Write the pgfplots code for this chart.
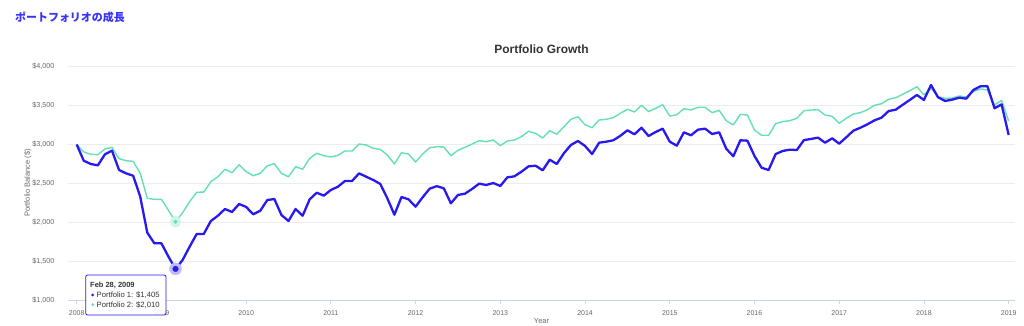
\documentclass[border=0pt]{standalone}
\usepackage{pgfplots}
\pgfplotsset{compat=1.18}
\usepackage{pgfplotstable}
\usepackage{fontspec}
\setmainfont{Liberation Sans}
\newfontfamily\cjk{Noto Sans CJK JP}
\definecolor{pone}{RGB}{40,25,240}
\definecolor{ptwo}{RGB}{100,224,178}
\definecolor{gridc}{RGB}{236,236,236}
\definecolor{axisc}{RGB}{204,214,235}
\definecolor{labc}{RGB}{102,102,102}
\definecolor{titc}{RGB}{51,51,51}
\definecolor{jtit}{RGB}{55,50,250}
\definecolor{haloone}{RGB}{190,188,252}
\definecolor{halotwo}{RGB}{208,245,231}

\pgfplotstableread{
m v
0 3000
1 2792
2 2750
3 2733
4 2874
5 2921
6 2673
7 2630
8 2600
9 2331
10 1869
11 1733
12 1733
13 1562
14 1405
15 1519
16 1690
17 1853
18 1853
19 2019
20 2087
21 2173
22 2135
23 2237
24 2200
25 2105
26 2151
27 2288
28 2301
29 2096
30 2019
31 2173
32 2087
33 2297
34 2382
35 2344
36 2417
37 2459
38 2532
39 2532
40 2630
41 2587
42 2545
43 2494
44 2310
45 2100
46 2327
47 2297
48 2203
49 2323
50 2434
51 2466
52 2438
53 2246
54 2353
55 2370
56 2430
57 2498
58 2481
59 2506
60 2468
61 2579
62 2592
63 2652
64 2720
65 2728
66 2669
67 2805
68 2750
69 2887
70 2994
71 3045
72 2981
73 2878
74 3023
75 3036
76 3054
77 3111
78 3182
79 3131
80 3215
81 3109
82 3160
83 3203
84 3036
85 2985
86 3156
87 3118
88 3190
89 3203
90 3135
91 3156
92 2946
93 2849
94 3054
95 3049
96 2853
97 2703
98 2673
99 2878
100 2917
101 2934
102 2929
103 3056
104 3071
105 3088
106 3023
107 3079
108 3011
109 3092
110 3177
111 3215
112 3259
113 3310
114 3344
115 3429
116 3446
117 3510
118 3571
119 3635
120 3571
121 3763
122 3605
123 3558
124 3575
125 3600
126 3588
127 3699
128 3746
129 3746
130 3464
131 3515
132 3122
}\pone

\pgfplotstableread{
m v
0 3000
1 2904
2 2874
3 2870
4 2942
5 2964
6 2818
7 2792
8 2784
9 2630
10 2310
11 2297
12 2297
13 2156
14 2010
15 2126
16 2267
17 2387
18 2390
19 2523
20 2587
21 2682
22 2639
23 2741
24 2652
25 2600
26 2630
27 2728
28 2754
29 2630
30 2587
31 2716
32 2682
33 2823
34 2887
35 2857
36 2840
37 2861
38 2917
39 2917
40 3006
41 2994
42 2951
43 2938
44 2865
45 2750
46 2895
47 2878
48 2776
49 2878
50 2959
51 2972
52 2968
53 2857
54 2925
55 2964
56 3006
57 3049
58 3036
59 3058
60 2985
61 3045
62 3058
63 3100
64 3169
65 3143
66 3083
67 3177
68 3131
69 3228
70 3323
71 3356
72 3254
73 3215
74 3314
75 3323
76 3344
77 3400
78 3451
79 3417
80 3503
81 3421
82 3464
83 3510
84 3365
85 3382
86 3459
87 3442
88 3477
89 3477
90 3408
91 3438
92 3305
93 3250
94 3387
95 3378
96 3186
97 3118
98 3118
99 3267
100 3293
101 3305
102 3336
103 3432
104 3442
105 3446
106 3378
107 3361
108 3272
109 3336
110 3391
111 3408
112 3446
113 3503
114 3523
115 3579
116 3600
117 3643
118 3690
119 3741
120 3635
121 3721
122 3613
123 3592
124 3596
125 3622
126 3609
127 3677
128 3712
129 3699
130 3506
131 3567
132 3301
}\ptwotab

\begin{document}
\begin{tikzpicture}
\path[use as bounding box] (0,0) rectangle (1024bp,326bp);
\begin{axis}[
  at={(68bp,25.5bp)}, anchor=south west,
  scale only axis, width=947bp, height=234bp,
  xmin=-1.23, xmax=132.9, ymin=1000, ymax=4000,
  axis x line*=bottom, axis y line*=left,
  x axis line style={draw=axisc, line width=0.8bp, -},
  y axis line style={draw=none},
  xtick={0,12,...,132},
  xticklabels={2008,2009,2010,2011,2012,2013,2014,2015,2016,2017,2018,2019},
  ytick={1000,1500,2000,2500,3000,3500,4000},
  yticklabels={{\$1,000},{\$1,500},{\$2,000},{\$2,500},{\$3,000},{\$3,500},{\$4,000}},
  xtick style={draw=axisc, line width=0.8bp},
  ytick style={draw=none},
  tick align=outside, major tick length=3.5bp,
  ymajorgrids, grid style={draw=gridc, line width=0.8bp},
  xticklabel style={font=\fontsize{7}{8}\selectfont, text=labc, anchor=north, inner sep=0pt, yshift=-6.5bp},
  yticklabel style={font=\fontsize{7.2}{8}\selectfont, text=labc, anchor=east, inner sep=0pt, xshift=-10bp},
  clip=false,
]
\addplot[ptwo, line width=1.4bp, line join=round] table[x=m, y=v] {\ptwotab};
\addplot[halotwo, only marks, mark=*, mark size=5.5bp, mark options={draw=halotwo, fill=halotwo}] coordinates {(14,2010)};
\addplot[pone, line width=2.3bp, line join=round] table[x=m, y=v] {\pone};
\addplot[ptwo, only marks, mark=*, mark size=1.8bp, mark options={draw=ptwo, fill=ptwo}] coordinates {(14,2010)};
\addplot[haloone, only marks, mark=*, mark size=6bp, mark options={draw=haloone, fill=haloone}] coordinates {(14,1405)};
\addplot[pone, only marks, mark=*, mark size=2.8bp, mark options={draw=pone, fill=pone}] coordinates {(14,1405)};
\end{axis}
% titles
\node[anchor=west, inner sep=0pt, text=jtit, font=\cjk\bfseries\fontsize{11}{12}\selectfont] at (15bp,309bp) {ポートフォリオの成長};
\node[inner sep=0pt, text=titc, font=\bfseries\fontsize{12}{14}\selectfont] at (541.5bp,277bp) {Portfolio Growth};
\node[inner sep=0pt, text=labc, rotate=90, font=\fontsize{7.5}{9}\selectfont] at (28bp,143bp) {Portfolio Balance (\$)};
\node[inner sep=0pt, text=labc, font=\fontsize{7.5}{9}\selectfont] at (541.5bp,5bp) {Year};
% tooltip
\draw[pone, line width=0.8bp, fill=white, fill opacity=0.9, rounded corners=2bp] (85.7bp,11bp) rectangle (166bp,51bp);
\node[anchor=west, inner sep=0pt, text=titc, font=\bfseries\fontsize{7.5}{9}\selectfont] at (90bp,41bp) {Feb 28, 2009};
\fill[pone] (92.7bp,31bp) circle (1.5bp);
\node[anchor=west, inner sep=0pt, text=titc, font=\fontsize{7.7}{9}\selectfont] at (96.5bp,31bp) {Portfolio 1: \$1,405};
\fill[ptwo] (92.7bp,21.3bp) circle (1.5bp);
\node[anchor=west, inner sep=0pt, text=titc, font=\fontsize{7.7}{9}\selectfont] at (96.5bp,21.3bp) {Portfolio 2: \$2,010};
\end{tikzpicture}
\end{document}
